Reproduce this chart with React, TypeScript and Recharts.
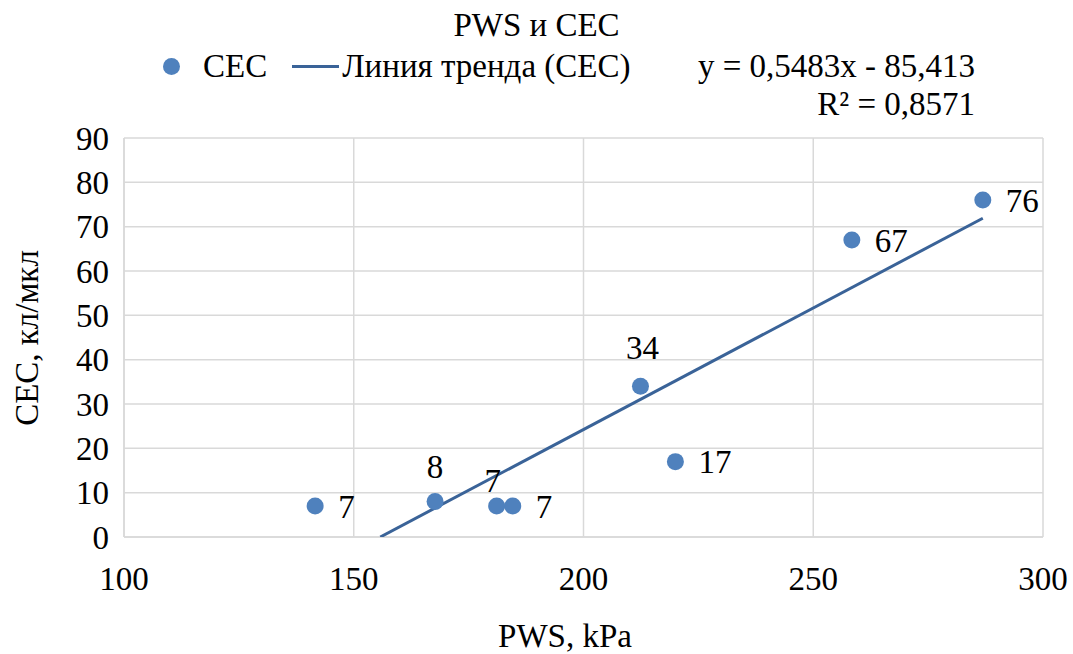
import React from 'react';
import { ScatterChart, Scatter, XAxis, YAxis, CartesianGrid, LabelList } from 'recharts';

const pwsValues = [141.6, 167.7, 181.1, 184.6, 212.4, 220.0, 258.4, 286.9];
const cecValues = [7, 8, 7, 7, 34, 17, 67, 76];
const xTicks = [100, 150, 200, 250, 300];
const yTicks = [0, 10, 20, 30, 40, 50, 60, 70, 80, 90];
const slope = 0.5483;
const intercept = -85.413;
const rSquared = '0,8571';

const points = pwsValues.map((x, i) => ({ x, y: cecValues[i] }));
const trendStart = -intercept / slope;
const trendEnd = pwsValues[pwsValues.length - 1];
const trend = [
  { x: trendStart, y: slope * trendStart + intercept },
  { x: trendEnd, y: slope * trendEnd + intercept },
];

const familyName = 'Liberation Serif';
const FONT = `"${familyName}", "Times New Roman", Times, serif`;
const FS = 33;
const POINT = '#4F81BD';
const TREND = '#3A6398';

const aboveIdx = new Set([1, 2, 4]);

const DataLabel = (props: any) => {
  const { x, y, width, height, value, index } = props;
  const cx = x + (width || 0) / 2;
  const cy = y + (height || 0) / 2;
  let tx = cx + 23;
  let ty = cy;
  let anchor: 'start' | 'middle' = 'start';
  if (aboveIdx.has(index)) {
    anchor = 'middle';
    if (index === 1) { tx = cx; ty = cy - 35; }
    else if (index === 2) { tx = cx - 4; ty = cy - 26; }
    else { tx = cx + 2; ty = cy - 39; }
  }
  return (
    <text x={tx} y={ty} dy="0.35em" textAnchor={anchor} fontFamily={FONT} fontSize={FS} fill="#000">
      {value}
    </text>
  );
};

const Dot = (props: any) => {
  const { cx, cy } = props;
  return <circle cx={cx} cy={cy} r={8.5} fill={POINT} />;
};

const tickStyle = { fontSize: FS, fill: '#000', fontFamily: FONT };

export default function App() {
  return (
    <div style={{ position: 'absolute', left: 0, top: 0, width: 1073, height: 654 }}>
      <ScatterChart width={1073} height={654} margin={{ top: 138, right: 30, bottom: 57, left: 54 }}>
        <CartesianGrid stroke="#D9D9D9" strokeWidth={1.5} horizontalValues={yTicks} verticalValues={xTicks} />
        <XAxis
          type="number"
          dataKey="x"
          domain={[100, 300]}
          ticks={xTicks}
          tickLine={false}
          axisLine={{ stroke: '#D9D9D9', strokeWidth: 1.5 }}
          tickSize={0}
          tickMargin={30}
          height={60}
          tick={tickStyle}
          allowDataOverflow
        />
        <YAxis
          type="number"
          dataKey="y"
          domain={[0, 90]}
          ticks={yTicks}
          tickLine={false}
          axisLine={{ stroke: '#D9D9D9', strokeWidth: 1.5 }}
          tickSize={0}
          tickMargin={15}
          width={70}
          tick={tickStyle}
          allowDataOverflow
        />
        <Scatter
          data={trend}
          line={{ stroke: TREND, strokeWidth: 3 }}
          shape={() => null}
          isAnimationActive={false}
        />
        <Scatter data={points} shape={<Dot />} isAnimationActive={false}>
          <LabelList dataKey="y" content={<DataLabel />} />
        </Scatter>
      </ScatterChart>

      <div style={{ fontFamily: FONT, fontSize: FS, position: 'absolute', left: 0, width: 1073, top: 6, textAlign: 'center', lineHeight: '38px' }}>
        PWS и CEC
      </div>
      <div style={{ fontFamily: FONT, fontSize: FS, position: 'absolute', left: 163, top: 47, height: 38, display: 'flex', alignItems: 'center', whiteSpace: 'nowrap' }}>
        <span style={{ display: 'inline-block', width: 17, height: 17, borderRadius: '50%', background: POINT, marginRight: 23 }} />
        <span>CEC</span>
        <span style={{ display: 'inline-block', width: 47, height: 3, background: TREND, marginLeft: 25, marginRight: 3 }} />
        <span>Линия тренда (CEC)</span>
      </div>
      <div style={{ fontFamily: FONT, fontSize: FS, position: 'absolute', left: 698, top: 47, lineHeight: '38px', textAlign: 'right', whiteSpace: 'nowrap' }}>
        <div>y = 0,5483x - 85,413</div>
        <div>R² = {rSquared}</div>
      </div>

      <div style={{ fontFamily: FONT, fontSize: FS, position: 'absolute', left: 0, width: 1130, top: 617, textAlign: 'center', lineHeight: '38px' }}>
        PWS, kPa
      </div>
      <div style={{ position: 'absolute', left: 27, top: 338, width: 0, height: 0 }}>
        <div style={{ fontFamily: FONT, fontSize: FS, position: 'absolute', transform: 'translate(-50%, -50%) rotate(-90deg)', lineHeight: '38px', whiteSpace: 'nowrap' }}>
          CEC, кл/мкл
        </div>
      </div>
    </div>
  );
}
